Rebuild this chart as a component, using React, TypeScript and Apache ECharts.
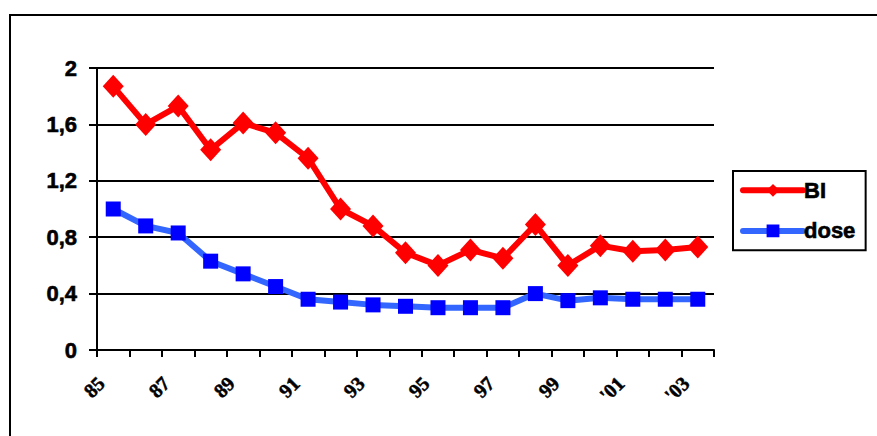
import React, { useEffect, useRef } from "react";
import * as echarts from "echarts";

const categories = ["85", "86", "87", "88", "89", "90", "91", "92", "93", "94", "95", "96", "97", "98", "99", "'00", "'01", "'02", "'03"];
const biValues = [1.87, 1.6, 1.73, 1.42, 1.61, 1.54, 1.36, 1.0, 0.88, 0.69, 0.6, 0.71, 0.65, 0.89, 0.6, 0.74, 0.7, 0.71, 0.73];
const doseValues = [1.0, 0.88, 0.83, 0.63, 0.54, 0.45, 0.36, 0.34, 0.32, 0.31, 0.3, 0.3, 0.3, 0.4, 0.35, 0.37, 0.36, 0.36, 0.36];
const yTicks = { min: 0, max: 2, interval: 0.4 };

const SANS = "'Liberation Sans', Arial, sans-serif";
const SERIF = "'Liberation Serif', 'Times New Roman', serif";

export default function App() {
  const ref = useRef<HTMLDivElement>(null);
  useEffect(() => {
    if (!ref.current) return;
    const chart = echarts.init(ref.current, null, { renderer: "svg" });
    chart.setOption({
      animation: false,
      backgroundColor: "#ffffff",
      grid: { left: 97, right: 163, top: 68, bottom: 86, containLabel: false },
      graphic: [
        {
          type: "rect",
          shape: { x: 10, y: 15, width: 900, height: 500 },
          style: { fill: "none", stroke: "#000", lineWidth: 2 },
          silent: true,
        },
      ],
      legend: {
        orient: "vertical",
        left: 733,
        top: 171,
        padding: [8, 10, 8, 7],
        itemWidth: 60,
        itemHeight: 16,
        itemGap: 18,
        borderColor: "#000",
        borderWidth: 2,
        lineStyle: { width: 6, cap: "round" },
        textStyle: {
          fontFamily: SANS,
          fontWeight: "bold",
          fontSize: 22,
          color: "#000",
          textBorderColor: "#000",
          textBorderWidth: 0.6,
          padding: [0, 0, 0, -4],
        },
        data: ["BI", "dose"],
      },
      xAxis: {
        type: "category",
        data: categories,
        boundaryGap: true,
        axisLine: { lineStyle: { color: "#000", width: 2 } },
        axisTick: { show: true, interval: 0, length: 7, lineStyle: { color: "#000", width: 2 } },
        axisLabel: {
          interval: 1,
          rotate: 45,
          margin: 18,
          padding: [0, 17, 0, 0],
          fontFamily: SERIF,
          fontWeight: "bold",
          fontSize: 20,
          color: "#000",
          textBorderColor: "#000",
          textBorderWidth: 0.5,
        },
        splitLine: { show: false },
      },
      yAxis: {
        type: "value",
        min: yTicks.min,
        max: yTicks.max,
        interval: yTicks.interval,
        axisLine: { show: true, lineStyle: { color: "#000", width: 2 } },
        axisTick: { show: true, length: 8, lineStyle: { color: "#000", width: 2 } },
        axisLabel: {
          margin: 20,
          fontFamily: SANS,
          fontWeight: "bold",
          fontSize: 22,
          color: "#000",
          textBorderColor: "#000",
          textBorderWidth: 0.6,
          formatter: (v: number) => String(Math.round(v * 10) / 10).replace(".", ","),
        },
        splitLine: { show: true, lineStyle: { color: "#000", width: 2 } },
      },
      series: [
        {
          name: "BI",
          type: "line",
          data: biValues,
          symbol: "diamond",
          symbolSize: [21, 23],
          showAllSymbol: true,
          lineStyle: { color: "#FF0000", width: 6, cap: "round" },
          itemStyle: { color: "#FF0000" },
          z: 3,
        },
        {
          name: "dose",
          type: "line",
          data: doseValues,
          symbol: "rect",
          symbolSize: 15,
          showAllSymbol: true,
          lineStyle: { color: "#3366FF", width: 6, cap: "round" },
          itemStyle: { color: "#0000FF" },
          z: 2,
        },
      ],
    });
    return () => chart.dispose();
  }, []);
  return <div ref={ref} style={{ position: "absolute", left: 0, top: 0, width: 877, height: 436 }} />;
}
